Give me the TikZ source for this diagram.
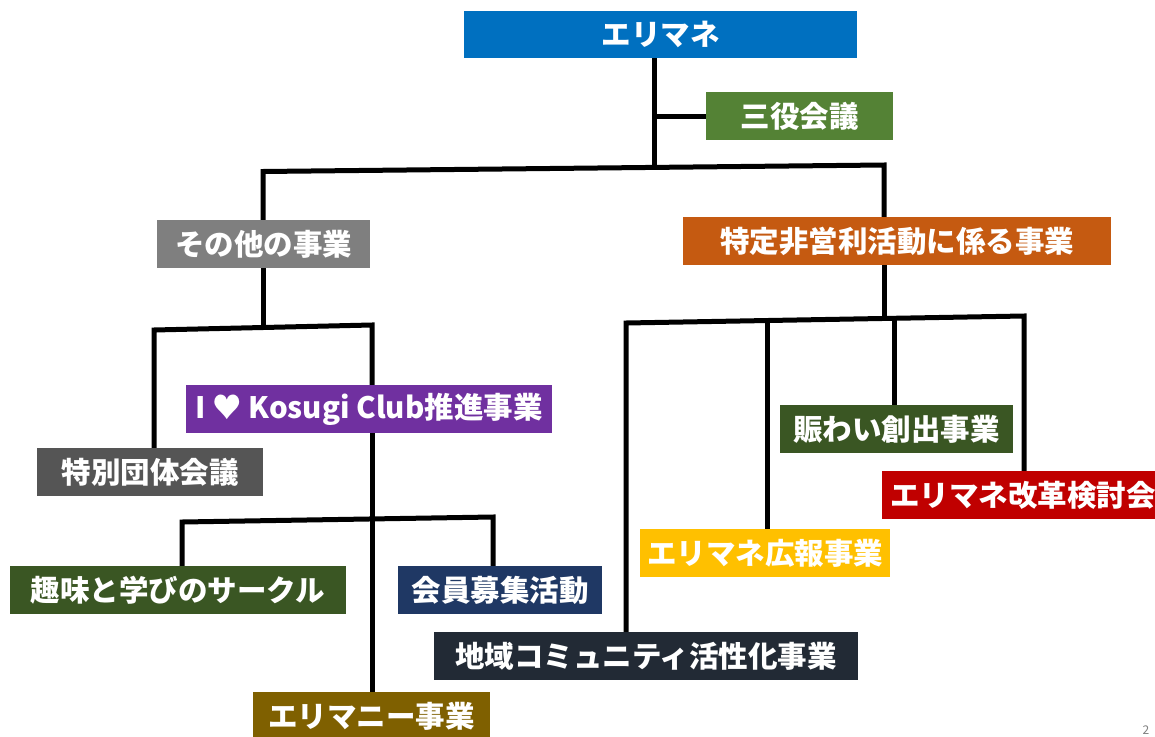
\documentclass[tikz,border=0pt]{standalone}
\usepackage{fontspec}
\newfontfamily\cjk{Noto Sans CJK JP}
\definecolor{cBlue}{HTML}{0070C0}
\definecolor{cGreen}{HTML}{548235}
\definecolor{cGray}{HTML}{7F7F7F}
\definecolor{cOrange}{HTML}{C55A11}
\definecolor{cPurple}{HTML}{7030A0}
\definecolor{cDGray}{HTML}{555555}
\definecolor{cDGreen}{HTML}{3A5623}
\definecolor{cNavy}{HTML}{1F3864}
\definecolor{cOlive}{HTML}{7F6000}
\definecolor{cRed}{HTML}{C00000}
\definecolor{cYellow}{HTML}{FFC000}
\definecolor{cSlate}{HTML}{222A35}
\tikzset{
  box/.style={rectangle, inner sep=0pt, minimum height=48pt, text=white,
    font=\cjk\bfseries\fontsize{29.5}{32}\selectfont},
  conn/.style={line width=5pt, black, line join=miter, line cap=butt},
}
\begin{document}
\begin{tikzpicture}[x=1pt,y=-1pt]
\useasboundingbox (0,0) rectangle (1155,736);
\clip (0,0) rectangle (1155,736);
\fill[white] (0,0) rectangle (1155,736);

% nodes
\node[box, fill=cBlue,   minimum width=393pt, minimum height=47pt] (top) at (660.5,34.5) {エリマネ};
\node[box, fill=cGreen,  minimum width=187pt] (sanyaku) at (799.5,116) {三役会議};
\node[box, fill=cGray,   minimum width=213pt] (sonota) at (263.5,244) {その他の事業};
\node[box, fill=cOrange, minimum width=428pt] (tokutei) at (897,241) {特定非営利活動に係る事業};
\node[box, fill=cPurple, minimum width=366pt] (ilove) at (369,409) {I ♥ Kosugi Club推進事業};
\node[box, fill=cDGray,  minimum width=226pt] (tokubetsu) at (150,472) {特別団体会議};
\node[box, fill=cDGreen, minimum width=336pt] (shumi) at (178,590) {趣味と学びのサークル};
\node[box, fill=cNavy,   minimum width=204pt] (kaiin) at (500,590) {会員募集活動};
\node[box, fill=cOlive,  minimum width=237pt] (erimany) at (371.5,716) {エリマニー事業};
\node[box, fill=cDGreen, minimum width=233pt] (nigiwai) at (896.5,429) {賑わい創出事業};
\node[box, fill=cRed,    minimum width=282pt] (kaikaku) at (1023,495) {エリマネ改革検討会};
\node[box, fill=cYellow, minimum width=250pt] (kouhou) at (765,553) {エリマネ広報事業};
\node[box, fill=cSlate,  minimum width=424pt] (chiiki) at (646,656) {地域コミュニティ活性化事業};

% junction coordinates
\coordinate (j1) at (654,168.5);
\coordinate (L1) at (263,171.5);
\coordinate (R1) at (884,165);
\coordinate (j2) at (263,327.5);
\coordinate (L2) at (154,330);
\coordinate (R2) at (372,325);
\coordinate (L3) at (182,522);
\coordinate (R3) at (493,517);
\coordinate (j4) at (884,318.5);
\coordinate (L4) at (626,323);
\coordinate (R4) at (1024,316);
\coordinate (k1) at (767,320.5);
\coordinate (k2) at (894,318.3);

% connectors
\draw[conn] (j1 |- top.south) -- (j1);
\draw[conn] (j1 |- sanyaku.west) -- (sanyaku.west);
\draw[conn] (sonota.north -| L1) -- (L1) -- (R1) -- (R1 |- tokutei.north);

\draw[conn] (j2 |- sonota.south) -- (j2);
\draw[conn] (L2 |- tokubetsu.north) -- (L2) -- (R2) -- (R2 |- ilove.north);
\draw[conn] (R2 |- ilove.south) -- (R2 |- erimany.north);
\draw[conn] (L3 |- shumi.north) -- (L3) -- (R3) -- (R3 |- kaiin.north);

\draw[conn] (j4 |- tokutei.south) -- (j4);
\draw[conn] (L4 |- chiiki.north) -- (L4) -- (R4) -- (R4 |- kaikaku.north);
\draw[conn] (k1) -- (k1 |- kouhou.north);
\draw[conn] (k2) -- (k2 |- nigiwai.north);

% page number
\node[anchor=south, text=gray, font=\cjk\fontsize{12}{14}\selectfont, inner sep=1pt] (pg) at (1146,736) {2};
\end{tikzpicture}
\end{document}
